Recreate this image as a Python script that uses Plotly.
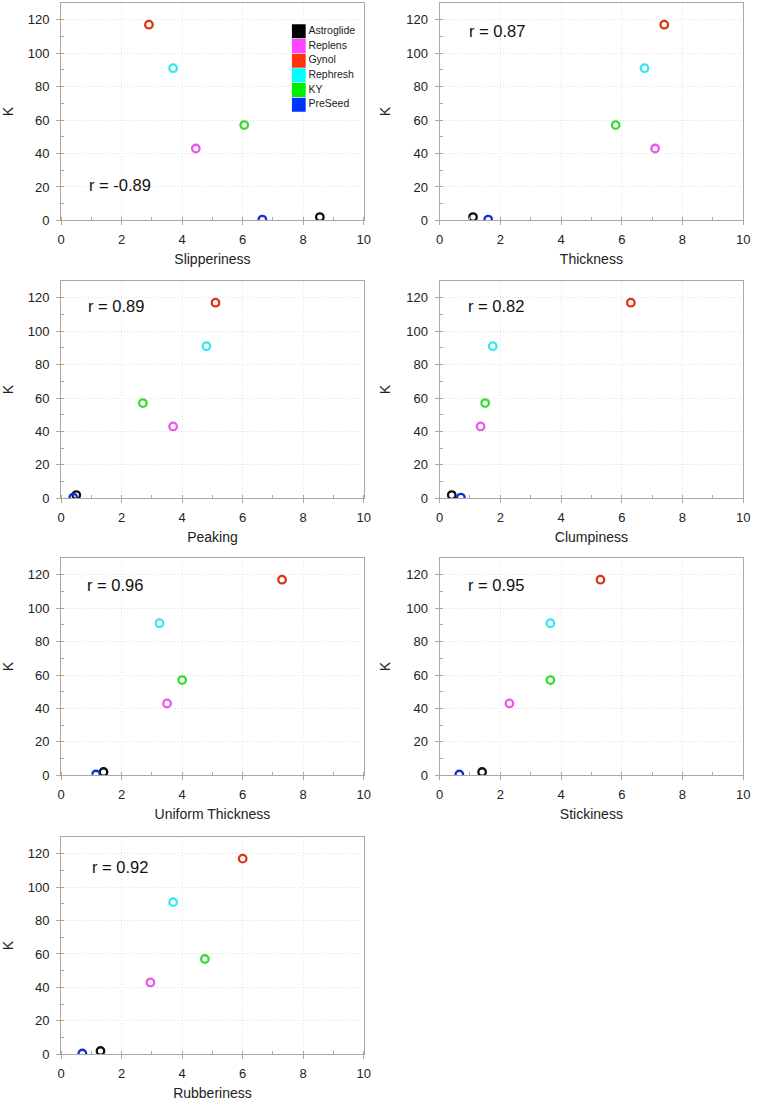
import plotly.graph_objects as go

# ---- data ----
products = ["Astroglide", "Replens", "Gynol", "Rephresh", "KY", "PreSeed"]
K = [2, 43, 117, 91, 57, 0.5]
attributes = ["Slipperiness", "Thickness", "Peaking", "Clumpiness",
              "Uniform Thickness", "Stickiness", "Rubberiness"]
slipperiness = [8.55, 4.45, 2.9, 3.7, 6.05, 6.65]
thickness = [1.1, 7.1, 7.4, 6.75, 5.8, 1.6]
peaking = [0.5, 3.7, 5.1, 4.8, 2.7, 0.4]
clumpiness = [0.4, 1.35, 6.3, 1.75, 1.5, 0.7]
uniform_thickness = [1.4, 3.5, 7.3, 3.25, 4.0, 1.15]
stickiness = [1.4, 2.3, 5.3, 3.65, 3.65, 0.65]
rubberiness = [1.3, 2.95, 6.0, 3.7, 4.75, 0.7]
r_values = ["-0.89", "0.87", "0.89", "0.82", "0.96", "0.95", "0.92"]
r_pos = [(0.85, 21), (0.91, 113), (0.82, 115), (0.88, 115),
         (0.80, 114), (0.88, 114), (0.96, 112)]

series_x = [slipperiness, thickness, peaking, clumpiness,
            uniform_thickness, stickiness, rubberiness]
marker_colors = ["#111111", "#ee55ee", "#dd3311", "#33e8ee", "#33dd33", "#1133cc"]
legend_colors = ["#000000", "#ff44ff", "#ff3311", "#00ffff", "#00ee00", "#0033ff"]

W, H = 761, 1108
FONT = "Liberation Sans, Arial, Helvetica, sans-serif"
col_px = [(58, 365), (442, 750)]
row_top = [3, 283, 562, 843]
PH = 219

fig = go.Figure()
annotations = []
for i, (attr, xs) in enumerate(zip(attributes, series_x)):
    row, col = divmod(i, 2)
    n = "" if i == 0 else str(i + 1)
    x0, x1 = col_px[col]
    top = row_top[row]
    xdom = [x0 / W, x1 / W]
    ydom = [1 - (top + PH) / H, 1 - top / H]
    for j, p in enumerate(products):
        fig.add_trace(go.Scatter(
            x=[xs[j]], y=[K[j]], mode="markers", name=p, showlegend=False,
            marker=dict(symbol="circle-open", size=7.5, color=marker_colors[j],
                        line=dict(width=2.3, color=marker_colors[j])),
            xaxis="x" + n, yaxis="y" + n))
    common = dict(showline=True, linecolor="#a8a8a8", linewidth=1, mirror=True,
                  ticks="outside", ticklen=4, tickcolor="#a8a8a8",
                  showgrid=True, gridcolor="#e2e2e2", griddash="1px,2px", gridwidth=1,
                  zeroline=False, tickfont=dict(size=13, color="#222", family=FONT))
    fig.layout["xaxis" + n] = dict(
        domain=xdom, range=[0, 10], dtick=2, anchor="y" + n,
        minor=dict(dtick=1, ticks="inside", ticklen=3, tickcolor="#a8a8a8", showgrid=False),
        title=dict(text=attr, font=dict(size=14, color="#222", family=FONT), standoff=8),
        ticklabelstandoff=3, **common)
    fig.layout["yaxis" + n] = dict(
        domain=ydom, range=[0, 130], tickvals=[0, 20, 40, 60, 80, 100, 120], anchor="x" + n,
        minor=dict(dtick=10, ticks="inside", ticklen=3, tickcolor="#a8a8a8", showgrid=False),
        title=dict(text="K", font=dict(size=14, color="#222", family=FONT), standoff=12),
        ticklabelstandoff=4, **common)
    rx, ry = r_pos[i]
    annotations.append(dict(x=rx, y=ry, xref="x" + n, yref="y" + n,
                            text="r = " + r_values[i], showarrow=False,
                            xanchor="left", yanchor="middle",
                            font=dict(size=16.5, color="#111", family=FONT)))

# legend drawn on a hidden axis pair inside the first panel
fig.add_trace(go.Scatter(
    x=[0.1] * len(products), y=list(range(len(products))), mode="markers+text",
    text=products, textposition="middle right", showlegend=False,
    textfont=dict(size=10.5, color="#222", family=FONT),
    marker=dict(symbol="square", size=14, color=legend_colors, line=dict(width=0)),
    xaxis="x8", yaxis="y8", hoverinfo="text"))
fig.layout["xaxis8"] = dict(domain=[292 / W, 362 / W], range=[0, 1], visible=False,
                            anchor="y8", fixedrange=True)
fig.layout["yaxis8"] = dict(domain=[1 - 113 / H, 1 - 24 / H], range=[5.5, -0.5],
                            visible=False, anchor="x8", fixedrange=True)

fig.update_layout(width=W, height=H, margin=dict(l=0, r=0, t=0, b=0),
                  paper_bgcolor="white", plot_bgcolor="white",
                  font=dict(family=FONT, color="#222"),
                  annotations=annotations, showlegend=False)
fig.write_html("out.html", config={"displayModeBar": False},
               post_script="document.body.style.margin='0';document.body.style.overflow='hidden';")
